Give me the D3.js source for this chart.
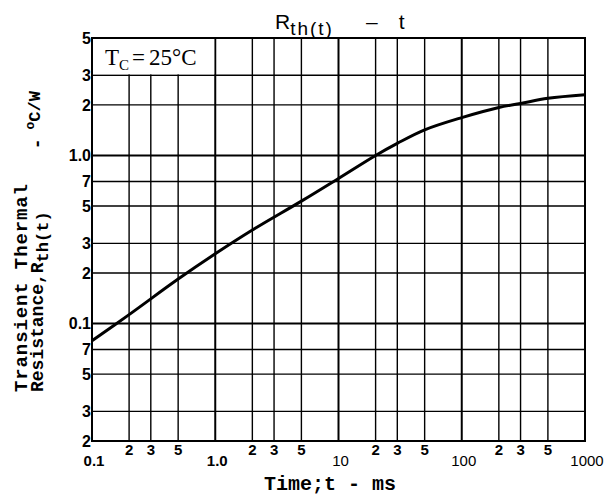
<!DOCTYPE html>
<html>
<head>
<meta charset="utf-8">
<script src="https://cdn.jsdelivr.net/npm/d3@7"></script>
<style>
    body { margin: 0; background: #fff; }
    svg { display: block; }
</style>
</head>
<body>
<svg id="chart"></svg>
<script>
const W = 605, H = 497

// curve
const time_ms = [0.1, 0.2, 0.5, 1, 2, 5, 10, 20, 30, 50, 100, 200, 300, 500, 1000]
const rth = [0.079, 0.113, 0.184, 0.26, 0.36, 0.535, 0.73, 1.0, 1.18, 1.42, 1.68, 1.93, 2.04, 2.19, 2.3]

// grid + ticks
const x_grid = [0.1, 0.2, 0.3, 0.5, 1, 2, 3, 5, 10, 20, 30, 50, 100, 200, 300, 500, 1000]
const y_grid = [0.02, 0.03, 0.05, 0.07, 0.1, 0.2, 0.3, 0.5, 0.7, 1, 2, 3, 5]
const x_major = [0.1, 1, 10, 100, 1000]
const x_major_labels = ["0.1", "1.0", "10", "100", "1000"]
const x_minor = [0.2, 0.3, 0.5, 2, 3, 5, 20, 30, 50, 200, 300, 500]
const x_minor_labels = ["2", "3", "5", "2", "3", "5", "2", "3", "5", "2", "3", "5"]
const y_labels = ["2", "3", "5", "7", "0.1", "2", "3", "5", "7", "1.0", "2", "3", "5"]

const svg = d3.select("#chart")
    .attr("width", W)
    .attr("height", H)

const x = d3.scaleLog().domain([0.1, 1000]).range([92, 585])
const y = d3.scaleLog().domain([0.02, 5]).range([441, 38])

const is_decade = v => Math.abs(Math.log10(v) - Math.round(Math.log10(v))) < 1e-6

// grid lines
const grid = svg.append("g").attr("id", "grid").attr("stroke", "#000")
grid.selectAll("line.v")
    .data(x_grid)
    .enter()
    .append("line")
    .attr("class", "v")
    .attr("x1", d => x(d)).attr("x2", d => x(d))
    .attr("y1", y(5)).attr("y2", y(0.02))
    .attr("stroke-width", d => is_decade(d) ? 2 : 1.4)

grid.selectAll("line.h")
    .data(y_grid)
    .enter()
    .append("line")
    .attr("class", "h")
    .attr("x1", x(0.1)).attr("x2", x(1000))
    .attr("y1", d => y(d)).attr("y2", d => y(d))
    .attr("stroke-width", d => is_decade(d) ? 2 : 1.4)

// Tc box (hides grid in the upper left cells)
svg.append("rect")
    .attr("x", x(0.1) + 1)
    .attr("y", y(5) + 1)
    .attr("width", x(1) - x(0.1) - 2)
    .attr("height", y(3) - y(5) - 2)
    .attr("fill", "#fff")

const tc = svg.append("text")
    .attr("x", x(0.1) + 13)
    .attr("y", 65)
    .attr("font-family", "Liberation Serif")
    .attr("font-size", 23)
tc.append("tspan").text("T")
tc.append("tspan").attr("font-size", 15).attr("dy", 5).text("C")
tc.append("tspan").attr("dy", -5).attr("dx", 3).text("=")
tc.append("tspan").attr("dx", 4).text("25°C")

// frame
svg.append("rect")
    .attr("x", x(0.1)).attr("y", y(5))
    .attr("width", x(1000) - x(0.1))
    .attr("height", y(0.02) - y(5))
    .attr("fill", "none")
    .attr("stroke", "#000")
    .attr("stroke-width", 2)

// curve
const line = d3.line()
    .x((d, i) => x(time_ms[i]))
    .y(d => y(d))
    .curve(d3.curveCatmullRom.alpha(0.5))

svg.append("path")
    .datum(rth)
    .attr("d", line)
    .attr("fill", "none")
    .attr("stroke", "#000")
    .attr("stroke-width", 3)

// y tick labels
svg.append("g")
    .selectAll("text")
    .data(y_grid)
    .enter()
    .append("text")
    .attr("x", x(0.1) - 1)
    .attr("y", d => y(d))
    .attr("dy", "0.36em")
    .attr("text-anchor", "end")
    .attr("font-family", "Liberation Sans")
    .attr("font-weight", "bold")
    .attr("font-size", 16)
    .text((d, i) => y_labels[i])

// x tick labels
svg.append("g")
    .selectAll("text")
    .data(x_minor)
    .enter()
    .append("text")
    .attr("x", d => x(d))
    .attr("y", 455)
    .attr("text-anchor", "middle")
    .attr("font-family", "Liberation Sans")
    .attr("font-weight", "bold")
    .attr("font-size", 15)
    .text((d, i) => x_minor_labels[i])

svg.append("g")
    .selectAll("text")
    .data(x_major)
    .enter()
    .append("text")
    .attr("x", d => x(d) + 2)
    .attr("y", 466)
    .attr("text-anchor", "middle")
    .attr("font-family", "Liberation Sans")
    .attr("font-weight", d => d >= 10 ? "normal" : "bold")
    .attr("font-size", 15)
    .text((d, i) => x_major_labels[i])

// x title
svg.append("text")
    .attr("x", 330)
    .attr("y", 490)
    .attr("text-anchor", "middle")
    .attr("font-family", "Liberation Mono")
    .attr("font-weight", "bold")
    .attr("font-size", 20)
    .text("Time;t - ms")

// y title, two rotated lines
svg.append("text")
    .attr("transform", "translate(27,392) rotate(-90)")
    .attr("font-family", "Liberation Mono")
    .attr("font-weight", "bold")
    .attr("font-size", 19)
    .attr("textLength", 208)
    .text("Transient Thermal")

const yt = svg.append("text")
    .attr("transform", "translate(43,392) rotate(-90)")
    .attr("font-family", "Liberation Mono")
    .attr("font-weight", "bold")
    .attr("font-size", 18)
yt.append("tspan").text("Resistance,R")
yt.append("tspan").attr("font-size", 17).attr("dy", 5).text("th(t)")
yt.append("tspan").attr("dy", -5).attr("dx", 62).text("-")
yt.append("tspan").attr("font-size", 13).attr("dy", -9).attr("dx", 9).text("o")
yt.append("tspan").attr("font-size", 17).attr("dy", 6).text("C/W")

// title
const title = svg.append("text")
    .attr("x", 275)
    .attr("y", 29)
    .attr("font-family", "Liberation Sans")
    .attr("font-size", 21)
title.append("tspan").text("R")
title.append("tspan").attr("font-size", 19).attr("letter-spacing", 2).attr("dy", 6).text("th(t)")
title.append("tspan").attr("dy", -6).attr("dx", 32).text("–")
title.append("tspan").attr("dx", 21).text("t")
</script>
</body>
</html>
